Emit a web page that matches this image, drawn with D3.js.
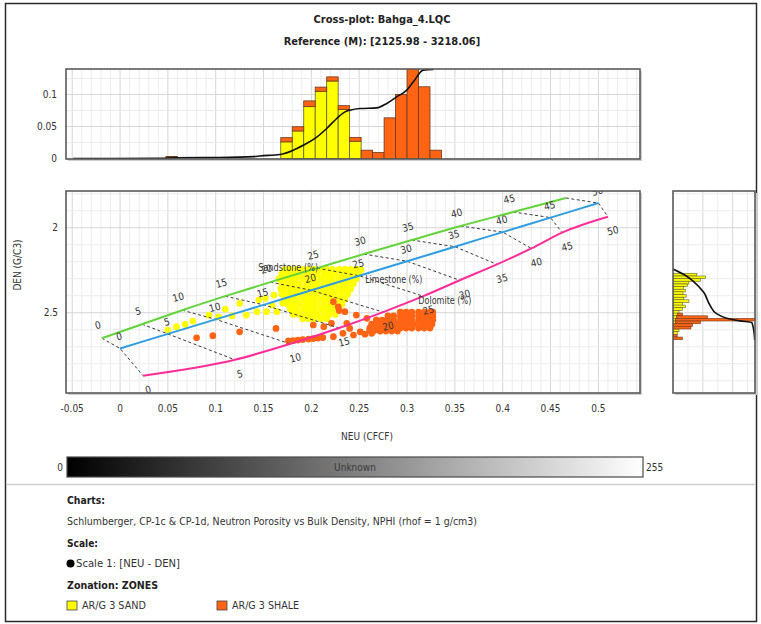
<!DOCTYPE html>
<html>
<head>
<meta charset="utf-8">
<title>Cross-plot: Bahga_4.LQC</title>
<script src="https://cdn.jsdelivr.net/npm/d3@7/dist/d3.min.js"></script>
<style>
  html, body { margin: 0; padding: 0; background: #ffffff; }
  svg { display: block; }
  text { font-family: "DejaVu Sans Condensed", "DejaVu Sans", "Liberation Sans", sans-serif; }
</style>
</head>
<body>
<svg id="chart" width="761" height="624"></svg>
<script>
// ---------- titles ----------
const chartTitle = "Cross-plot: Bahga_4.LQC";
const chartSubtitle = "Reference (M): [2125.98 - 3218.06]";
const xAxisTitle = "NEU (CFCF)";
const yAxisTitle = "DEN (G/C3)";

// ---------- axis ticks ----------
const neuTicks = [-0.05, 0, 0.05, 0.1, 0.15, 0.2, 0.25, 0.3, 0.35, 0.4, 0.45, 0.5];
const denTicks = [2, 2.5];
const freqTicks = [0, 0.05, 0.1];

// ---------- CP-1c overlay: porosity (%) along each lithology ----------
const porosity = [0, 5, 10, 15, 20, 25, 30, 35, 40, 45, 50];
const sandstoneNeu = [-0.019, 0.023, 0.065, 0.110, 0.157, 0.206, 0.255, 0.305, 0.356, 0.411, 0.466];
const sandstoneDen = [2.65, 2.5675, 2.485, 2.4025, 2.32, 2.2375, 2.155, 2.0725, 1.99, 1.9075, 1.825];
const limestoneNeu = [0, 0.05, 0.10, 0.15, 0.20, 0.25, 0.30, 0.35, 0.40, 0.45, 0.50];
const limestoneDen = [2.71, 2.6245, 2.539, 2.4535, 2.368, 2.2825, 2.197, 2.1115, 2.026, 1.9405, 1.855];
const dolomiteNeu = [0.024, 0.120, 0.178, 0.229, 0.275, 0.317, 0.355, 0.394, 0.430, 0.462, 0.510];
const dolomiteDen = [2.87, 2.7765, 2.683, 2.5895, 2.496, 2.4025, 2.309, 2.2155, 2.122, 2.0285, 1.935];

// ---------- zone samples [NEU, DEN] ----------
const sandPoints = [
  [0.172,2.245],[0.178,2.245],[0.184,2.245],[0.191,2.245],[0.197,2.245],[0.203,2.245],[0.210,2.245],[0.216,2.245],[0.222,2.245],[0.229,2.245],[0.235,2.245],[0.241,2.245],[0.247,2.245],[0.252,2.247],
  [0.169,2.272],[0.175,2.272],[0.181,2.272],[0.187,2.272],[0.194,2.272],[0.200,2.272],[0.206,2.272],[0.213,2.272],[0.219,2.272],[0.225,2.272],[0.232,2.272],[0.238,2.272],[0.244,2.272],[0.250,2.272],
  [0.166,2.300],[0.172,2.300],[0.178,2.300],[0.184,2.300],[0.191,2.300],[0.197,2.300],[0.203,2.300],[0.210,2.300],[0.216,2.300],[0.222,2.300],[0.229,2.300],[0.235,2.300],[0.241,2.300],[0.247,2.300],
  [0.169,2.330],[0.175,2.330],[0.181,2.330],[0.187,2.330],[0.194,2.330],[0.200,2.330],[0.206,2.330],[0.213,2.330],[0.219,2.330],[0.225,2.330],[0.232,2.330],[0.238,2.330],[0.244,2.330],
  [0.168,2.360],[0.172,2.360],[0.178,2.360],[0.184,2.360],[0.191,2.360],[0.197,2.360],[0.203,2.360],[0.210,2.360],[0.216,2.360],[0.222,2.360],[0.229,2.360],[0.235,2.360],[0.241,2.360],
  [0.169,2.390],[0.175,2.390],[0.181,2.390],[0.187,2.390],[0.194,2.390],[0.200,2.390],[0.206,2.390],[0.213,2.390],[0.219,2.390],[0.225,2.390],[0.232,2.390],[0.238,2.390],
  [0.172,2.420],[0.178,2.420],[0.184,2.420],[0.191,2.420],[0.197,2.420],[0.203,2.420],[0.210,2.420],[0.216,2.420],[0.222,2.420],[0.229,2.420],[0.235,2.420],
  [0.175,2.450],[0.181,2.450],[0.187,2.450],[0.194,2.450],[0.200,2.450],[0.206,2.450],[0.213,2.450],[0.219,2.450],[0.225,2.450],[0.232,2.450],
  [0.178,2.480],[0.184,2.480],[0.191,2.480],[0.197,2.480],[0.203,2.480],[0.210,2.480],[0.216,2.480],[0.222,2.480],[0.229,2.480],
  [0.181,2.510],[0.187,2.510],[0.194,2.510],[0.200,2.510],[0.206,2.510],[0.213,2.510],[0.219,2.510],[0.225,2.510],
  [0.191,2.535],[0.197,2.535],[0.203,2.535],[0.210,2.535],[0.216,2.535],
  [0.050,2.602],[0.059,2.582],[0.068,2.568],[0.076,2.549],[0.093,2.514],[0.103,2.524],[0.110,2.478],[0.117,2.518],
  [0.125,2.445],[0.132,2.514],[0.143,2.494],[0.145,2.425],[0.152,2.415],[0.153,2.494],[0.159,2.455],[0.161,2.396],
  [0.164,2.494],[0.170,2.443]
];
const shalePoints = [
  [0.080,2.647],[0.097,2.635],[0.125,2.612],[0.163,2.592],
  [0.176,2.666],[0.181,2.664],[0.186,2.661],[0.191,2.658],[0.197,2.655],[0.202,2.652],[0.207,2.649],[0.212,2.646],
  [0.202,2.572],[0.213,2.582],[0.221,2.562],[0.223,2.641],[0.233,2.621],[0.237,2.562],[0.240,2.592],[0.244,2.631],
  [0.251,2.612],[0.256,2.626],[0.261,2.602],[0.263,2.621],[0.270,2.602],
  [0.223,2.435],[0.228,2.465],[0.229,2.487],[0.235,2.494],[0.247,2.514],[0.258,2.533],[0.268,2.543],
  [0.293,2.496],[0.299,2.496],[0.305,2.496],[0.312,2.496],[0.318,2.496],[0.324,2.496],[0.327,2.496],
  [0.280,2.519],[0.286,2.519],[0.293,2.519],[0.299,2.519],[0.305,2.519],[0.312,2.519],[0.318,2.519],[0.324,2.519],[0.327,2.519],
  [0.268,2.543],[0.274,2.543],[0.280,2.543],[0.286,2.543],[0.293,2.543],[0.299,2.543],[0.305,2.543],[0.312,2.543],[0.318,2.543],[0.324,2.543],[0.327,2.543],
  [0.263,2.567],[0.270,2.567],[0.276,2.567],[0.282,2.567],[0.289,2.567],[0.295,2.567],[0.301,2.567],[0.307,2.567],[0.314,2.567],[0.320,2.567],[0.326,2.567],
  [0.261,2.590],[0.268,2.590],[0.274,2.590],[0.280,2.590],[0.286,2.590],[0.293,2.590],[0.299,2.590],[0.305,2.590],[0.312,2.590],[0.318,2.590],[0.324,2.590],
  [0.265,2.608],[0.272,2.608],[0.278,2.608],[0.284,2.608],[0.290,2.608]
];

// ---------- NEU histogram (bin width 0.012) ----------
const neuBinStart = [0.048, 0.168, 0.180, 0.192, 0.204, 0.216, 0.228, 0.240, 0.252, 0.264, 0.276, 0.288, 0.300, 0.312, 0.324];
const neuSandFreq = [0.002, 0.026, 0.043, 0.081, 0.105, 0.121, 0.0765, 0.027, 0, 0, 0, 0, 0, 0, 0];
const neuShaleFreq = [0.001, 0.0066, 0.0066, 0.009, 0.0065, 0.0065, 0.006, 0.006, 0.013, 0.0094, 0.0635, 0.100, 0.150, 0.112, 0.013];
const neuCurveX = [-0.049, 0.045, 0.058, 0.100, 0.140, 0.1463, 0.1672, 0.1811, 0.1916, 0.2038, 0.216, 0.2265, 0.2352, 0.2404, 0.2509, 0.2683, 0.2788, 0.2892, 0.2997, 0.3066, 0.317, 0.3275];
const neuCurveY = [0, 0.0004, 0.0012, 0.0016, 0.003, 0.004, 0.0063, 0.013, 0.0208, 0.0313, 0.0469, 0.0625, 0.0728, 0.0755, 0.078, 0.079, 0.086, 0.0963, 0.1067, 0.1197, 0.138, 0.139];

// ---------- DEN histogram (bin width 0.0156) ----------
const denBinStart = [2.268, 2.284, 2.299, 2.315, 2.331, 2.346, 2.362, 2.377, 2.393, 2.409, 2.424, 2.440, 2.455, 2.471, 2.487, 2.502, 2.518, 2.533, 2.549, 2.565, 2.580, 2.596, 2.611, 2.627, 2.643];
const denSandFreq = [0.040, 0.0545, 0.046, 0.0267, 0.024, 0.018, 0.021, 0.0167, 0.022, 0.018, 0.0267, 0.0157, 0.021, 0.0157, 0.010, 0.008, 0.006, 0.004, 0.004, 0, 0, 0.010, 0.007, 0, 0];
const denShaleFreq = [0, 0, 0, 0, 0, 0, 0, 0, 0, 0, 0, 0, 0, 0, 0, 0.008, 0.052, 0.160, 0.042, 0.033, 0.030, 0, 0, 0.007, 0.0157];
const denCurveY = [2.243, 2.281, 2.318, 2.380, 2.456, 2.505, 2.532, 2.548, 2.557, 2.594, 2.660];
const denCurveX = [0, 0.021, 0.035, 0.0515, 0.062, 0.073, 0.090, 0.112, 0.132, 0.135, 0.137];

// ---------- legend ----------
const chartsText = "Schlumberger, CP-1c & CP-1d, Neutron Porosity vs Bulk Density, NPHI (rhof = 1 g/cm3)";
const scaleText = "Scale 1:  [NEU - DEN]";
const zoneNames = ["AR/G 3 SAND", "AR/G 3 SHALE"];
const zoneColors = ["#ffff00", "#ff6414"];
const colorbarLabels = ["0", "Unknown", "255"];

// ---------- drawing ----------
const svg = d3.select("#chart");
const defs = svg.append("defs");

const mainBox = {l: 66, r: 640, t: 191, b: 393};
const histBox = {l: 66, r: 640, t: 69, b: 159};
const sideBox = {l: 673, r: 755, t: 191, b: 393};

const x = d3.scaleLinear().domain([-0.0565, 0.5435]).range([mainBox.l, mainBox.r]);
const y = d3.scaleLinear().domain([1.784, 2.972]).range([mainBox.t, mainBox.b]);
const fy = d3.scaleLinear().domain([0, 0.139]).range([histBox.b - 0.5, histBox.t + 0.5]);
const fx = d3.scaleLinear().domain([0, 0.1375]).range([sideBox.l, sideBox.r]);

const INK = "#333333";
const GRID_MAJOR = "#d6d6d6";
const GRID_MINOR = "#ececec";
const SAND = zoneColors[0], SHALE = zoneColors[1];
const DOT_R = 3.35;

function clipFor(id, b) {
  defs.append("clipPath").attr("id", id).append("rect")
    .attr("x", b.l).attr("y", b.t).attr("width", b.r - b.l).attr("height", b.b - b.t);
}
clipFor("clipMain", mainBox);
clipFor("clipHist", histBox);
clipFor("clipSide", sideBox);

// outer border
svg.append("rect").attr("x", 5.5).attr("y", 3.5).attr("width", 751).attr("height", 618)
  .attr("fill", "#ffffff").attr("stroke", "#2b2b2b").attr("stroke-width", 1.5);

function panelBack(b) {
  svg.append("rect").attr("x", b.l + 2).attr("y", b.t + 2)
    .attr("width", b.r - b.l).attr("height", b.b - b.t).attr("fill", "#cfcfcf");
  svg.append("rect").attr("x", b.l).attr("y", b.t)
    .attr("width", b.r - b.l).attr("height", b.b - b.t).attr("fill", "#ffffff");
}
function panelFrame(b) {
  svg.append("rect").attr("x", b.l).attr("y", b.t)
    .attr("width", b.r - b.l).attr("height", b.b - b.t)
    .attr("fill", "none").attr("stroke", "#5a5a5a").attr("stroke-width", 1.6);
}

[mainBox, histBox, sideBox].forEach(panelBack);

// grid lines
const neuGrid = d3.range(-5, 55).map(i => ({v: i / 100, major: i % 5 === 0}));
const denGrid = d3.range(18, 30).map(i => ({v: i / 10, major: i === 20 || i === 25}));
const freqGrid = d3.range(0, 6).map(i => ({v: i * 0.025, major: i % 2 === 0}));

function vLines(g, list, sc, b) {
  g.selectAll(null).data(list).join("line")
    .attr("x1", d => sc(d.v)).attr("x2", d => sc(d.v))
    .attr("y1", b.t).attr("y2", b.b)
    .attr("stroke", d => d.major ? GRID_MAJOR : GRID_MINOR).attr("stroke-width", 1);
}
function hLines(g, list, sc, b) {
  g.selectAll(null).data(list).join("line")
    .attr("y1", d => sc(d.v)).attr("y2", d => sc(d.v))
    .attr("x1", b.l).attr("x2", b.r)
    .attr("stroke", d => d.major ? GRID_MAJOR : GRID_MINOR).attr("stroke-width", 1);
}
function sortMinorFirst(list) { return list.slice().sort((a, b) => a.major - b.major); }

const gMainGrid = svg.append("g").attr("clip-path", "url(#clipMain)");
vLines(gMainGrid, sortMinorFirst(neuGrid), x, mainBox);
hLines(gMainGrid, sortMinorFirst(denGrid), y, mainBox);
const gHistGrid = svg.append("g").attr("clip-path", "url(#clipHist)");
vLines(gHistGrid, sortMinorFirst(neuGrid), x, histBox);
hLines(gHistGrid, sortMinorFirst(freqGrid), fy, histBox);
const gSideGrid = svg.append("g").attr("clip-path", "url(#clipSide)");
vLines(gSideGrid, sortMinorFirst(freqGrid), fx, sideBox);
hLines(gSideGrid, sortMinorFirst(denGrid), y, sideBox);

// ---------- main cross-plot ----------
const gMain = svg.append("g").attr("clip-path", "url(#clipMain)");

gMain.append("g").selectAll("circle").data(sandPoints).join("circle")
  .attr("cx", d => x(d[0])).attr("cy", d => y(d[1])).attr("r", DOT_R).attr("fill", SAND);
gMain.append("g").selectAll("circle").data(shalePoints).join("circle")
  .attr("cx", d => x(d[0])).attr("cy", d => y(d[1])).attr("r", DOT_R).attr("fill", SHALE);

const lithologies = [
  {name: "Sandstone (%)", neu: sandstoneNeu, den: sandstoneDen, color: "#63d43b", lab: [-4, -13]},
  {name: "Limestone (%)", neu: limestoneNeu, den: limestoneDen, color: "#2f9de0", lab: [-1, -12]},
  {name: "Dolomite (%)",  neu: dolomiteNeu,  den: dolomiteDen,  color: "#ff2d97", lab: [5, 14]}
];
lithologies.forEach(L => { L.pts = porosity.map((p, i) => [L.neu[i], L.den[i], p]); });

// iso-porosity connectors
const straight = d3.line().x(d => x(d[0])).y(d => y(d[1]));
gMain.append("g").selectAll("path").data(porosity.map((p, i) => lithologies.map(L => L.pts[i])))
  .join("path").attr("d", straight).attr("fill", "none")
  .attr("stroke", "#3a3a3a").attr("stroke-width", 1).attr("stroke-dasharray", "3,2.5");

const smooth = d3.line().x(d => x(d[0])).y(d => y(d[1])).curve(d3.curveMonotoneX);
gMain.append("g").selectAll("path").data(lithologies).join("path")
  .attr("d", L => smooth(L.pts)).attr("fill", "none")
  .attr("stroke", L => L.color).attr("stroke-width", 2);

// porosity numbers
lithologies.forEach(L => {
  gMain.append("g").selectAll("text").data(L.pts).join("text")
    .attr("transform", d => `translate(${x(d[0]) + L.lab[0]},${y(d[1]) + L.lab[1]}) rotate(-15)`)
    .attr("text-anchor", "middle").attr("dy", "0.35em")
    .attr("font-size", 10).attr("fill", INK)
    .text(d => d[2]);
});

// lithology names (placed at the 25 % point of each line)
const i25 = porosity.indexOf(25);
const nameSpecs = [
  {L: lithologies[0], dx: 1, dy: -1, anchor: "end", len: 60},
  {L: lithologies[1], dx: 6, dy: 4, anchor: "start", len: 57},
  {L: lithologies[2], dx: -5, dy: 4, anchor: "start", len: 53}
];
nameSpecs.forEach(s => {
  const p = s.L.pts[i25];
  gMain.append("text").attr("x", x(p[0]) + s.dx).attr("y", y(p[1]) + s.dy)
    .attr("dy", "0.35em").attr("text-anchor", s.anchor)
    .attr("font-size", 10).attr("fill", INK)
    .attr("textLength", s.len).attr("lengthAdjust", "spacingAndGlyphs").text(s.L.name);
});

// ---------- NEU histogram (top) ----------
const bw = 0.012;
const gHist = svg.append("g").attr("clip-path", "url(#clipHist)");
const neuBins = neuBinStart.map((s, i) => ({s, sand: neuSandFreq[i], shale: neuShaleFreq[i]}));
gHist.append("g").selectAll("rect").data(neuBins.filter(d => d.sand > 0)).join("rect")
  .attr("x", d => x(d.s)).attr("width", d => x(d.s + bw) - x(d.s))
  .attr("y", d => fy(d.sand)).attr("height", d => fy(0) - fy(d.sand))
  .attr("fill", SAND).attr("stroke", "#5e5e2a").attr("stroke-width", 0.8);
gHist.append("g").selectAll("rect").data(neuBins.filter(d => d.shale > 0)).join("rect")
  .attr("x", d => x(d.s)).attr("width", d => x(d.s + bw) - x(d.s))
  .attr("y", d => fy(d.sand + d.shale)).attr("height", d => fy(d.sand) - fy(d.sand + d.shale))
  .attr("fill", SHALE).attr("stroke", "#6a3a1e").attr("stroke-width", 0.8);
gHist.append("path")
  .attr("d", d3.line().x(d => x(d[0])).y(d => fy(d[1])).curve(d3.curveMonotoneX)(neuCurveX.map((v, i) => [v, neuCurveY[i]])))
  .attr("fill", "none").attr("stroke", "#111").attr("stroke-width", 1.6);

// ---------- DEN histogram (right) ----------
const bh = 0.0156;
const gSide = svg.append("g").attr("clip-path", "url(#clipSide)");
const denBins = denBinStart.map((s, i) => ({s, sand: denSandFreq[i], shale: denShaleFreq[i]}));
gSide.append("g").selectAll("rect").data(denBins.filter(d => d.sand > 0)).join("rect")
  .attr("y", d => y(d.s)).attr("height", d => y(d.s + bh) - y(d.s))
  .attr("x", fx(0)).attr("width", d => fx(d.sand) - fx(0))
  .attr("fill", SAND).attr("stroke", "#5e5e2a").attr("stroke-width", 0.6);
gSide.append("g").selectAll("rect").data(denBins.filter(d => d.shale > 0)).join("rect")
  .attr("y", d => y(d.s)).attr("height", d => y(d.s + bh) - y(d.s))
  .attr("x", d => fx(d.sand)).attr("width", d => fx(d.sand + d.shale) - fx(d.sand))
  .attr("fill", SHALE).attr("stroke", "#6a3a1e").attr("stroke-width", 0.6);
gSide.append("path")
  .attr("d", d3.line().x(d => fx(d[0])).y(d => y(d[1])).curve(d3.curveMonotoneY)(denCurveY.map((v, i) => [denCurveX[i], v])))
  .attr("fill", "none").attr("stroke", "#111").attr("stroke-width", 1.6);

[mainBox, histBox, sideBox].forEach(panelFrame);

// ---------- axes labels ----------
svg.append("g").selectAll("text").data(neuTicks).join("text")
  .attr("x", d => x(d)).attr("y", 408).attr("dy", "0.35em").attr("text-anchor", "middle")
  .attr("font-size", 10).attr("fill", INK).text(d => d);
svg.append("g").selectAll("text").data(denTicks).join("text")
  .attr("x", 58).attr("y", d => y(d)).attr("dy", "0.35em").attr("text-anchor", "end")
  .attr("font-size", 10).attr("fill", INK).text(d => d);
svg.append("g").selectAll("text").data(freqTicks).join("text")
  .attr("x", 57).attr("y", d => fy(d)).attr("dy", "0.35em").attr("text-anchor", "end")
  .attr("font-size", 10).attr("fill", INK).text(d => d);

svg.append("text").attr("x", 367).attr("y", 436).attr("dy", "0.35em").attr("text-anchor", "middle")
  .attr("font-size", 10).attr("fill", INK).text(xAxisTitle);
svg.append("text").attr("transform", "translate(17,265) rotate(-90)").attr("dy", "0.35em")
  .attr("text-anchor", "middle").attr("font-size", 10).attr("fill", INK).text(yAxisTitle);

// ---------- titles ----------
svg.append("text").attr("x", 382).attr("y", 19).attr("dy", "0.35em").attr("text-anchor", "middle")
  .attr("font-size", 11).attr("font-weight", "bold").attr("fill", "#222").text(chartTitle);
svg.append("text").attr("x", 382).attr("y", 41).attr("dy", "0.35em").attr("text-anchor", "middle")
  .attr("font-size", 11).attr("font-weight", "bold").attr("fill", "#222").text(chartSubtitle);

// ---------- colour bar ----------
const grad = defs.append("linearGradient").attr("id", "grey").attr("x1", "0%").attr("x2", "100%");
grad.append("stop").attr("offset", "0%").attr("stop-color", "#000");
grad.append("stop").attr("offset", "100%").attr("stop-color", "#fff");
svg.append("rect").attr("x", 67).attr("y", 457).attr("width", 576).attr("height", 20)
  .attr("fill", "url(#grey)").attr("stroke", "#4a4a4a").attr("stroke-width", 1.2);
svg.append("text").attr("x", 63).attr("y", 467).attr("dy", "0.35em").attr("text-anchor", "end")
  .attr("font-size", 10).attr("fill", INK).text(colorbarLabels[0]);
svg.append("text").attr("x", 355).attr("y", 467).attr("dy", "0.35em").attr("text-anchor", "middle")
  .attr("font-size", 10).attr("fill", "#3a3a3a").text(colorbarLabels[1]);
svg.append("text").attr("x", 646).attr("y", 467).attr("dy", "0.35em").attr("text-anchor", "start")
  .attr("font-size", 10).attr("fill", INK).text(colorbarLabels[2]);

svg.append("line").attr("x1", 6).attr("x2", 756).attr("y1", 484.5).attr("y2", 484.5)
  .attr("stroke", "#cfcfcf").attr("stroke-width", 1.5);

// ---------- legend ----------
function head(txt, yy, len) {
  svg.append("text").attr("x", 67).attr("y", yy).attr("dy", "0.35em")
    .attr("font-size", 11).attr("font-weight", "bold").attr("fill", "#222")
    .attr("textLength", len).attr("lengthAdjust", "spacingAndGlyphs").text(txt);
}
head("Charts:", 500, 38);
svg.append("text").attr("x", 67).attr("y", 521).attr("dy", "0.35em")
  .attr("font-size", 10).attr("fill", INK)
  .attr("textLength", 410).attr("lengthAdjust", "spacingAndGlyphs").text(chartsText);
head("Scale:", 543, 31);
svg.append("circle").attr("cx", 70.5).attr("cy", 563.5).attr("r", 4).attr("fill", "#000");
svg.append("text").attr("x", 76).attr("y", 563.5).attr("dy", "0.35em")
  .attr("font-size", 10).attr("fill", INK)
  .attr("textLength", 104).attr("lengthAdjust", "spacingAndGlyphs").text(scaleText);
head("Zonation: ZONES", 585, 91);

const legendX = [67, 217];
const legendLen = [64, 67];
zoneNames.forEach((name, i) => {
  svg.append("rect").attr("x", legendX[i]).attr("y", 601).attr("width", 10).attr("height", 9)
    .attr("fill", zoneColors[i]).attr("stroke", "#444").attr("stroke-width", 0.8);
  svg.append("text").attr("x", legendX[i] + 15).attr("y", 605.5).attr("dy", "0.35em")
    .attr("font-size", 10).attr("fill", INK)
    .attr("textLength", legendLen[i]).attr("lengthAdjust", "spacingAndGlyphs").text(name);
});
</script>
</body>
</html>
